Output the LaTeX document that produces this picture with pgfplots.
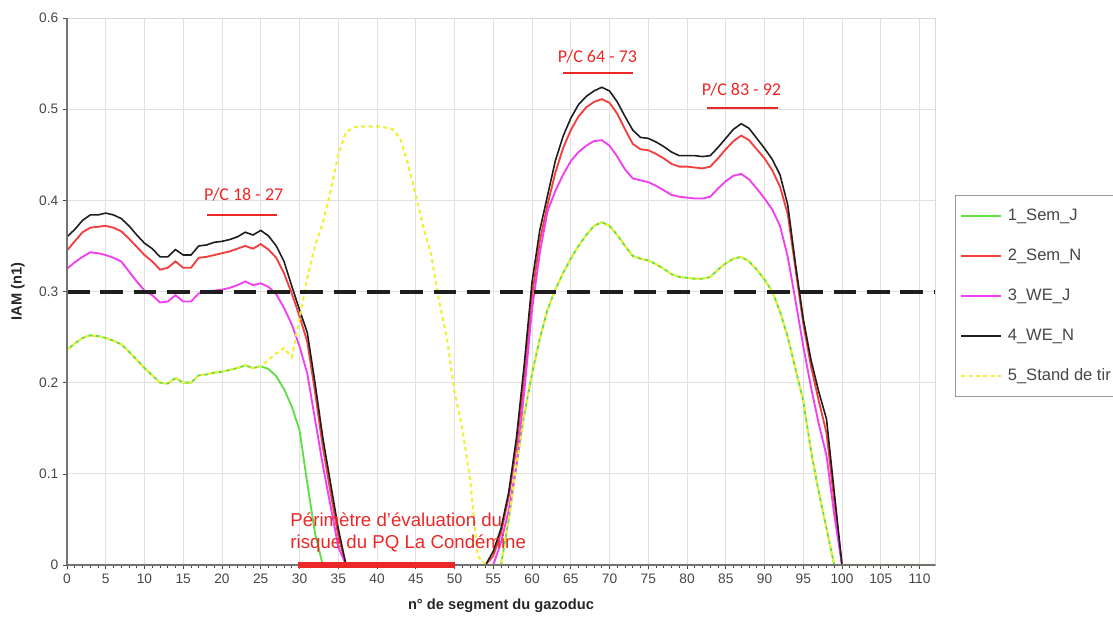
\documentclass[border=0pt]{standalone}
\usepackage{fontspec}
\setmainfont{Liberation Sans}
\newfontfamily\carlito{Carlito}
\usepackage{pgfplots}
\usepackage{pgfplotstable}
\pgfplotsset{compat=1.18}

\definecolor{cGreen}{RGB}{96,222,72}
\definecolor{cRed}{RGB}{242,64,64}
\definecolor{cMag}{RGB}{240,64,240}
\definecolor{cBlack}{RGB}{30,30,30}
\definecolor{cYel}{RGB}{240,240,60}
\definecolor{cTick}{RGB}{70,70,70}
\definecolor{cAnn}{RGB}{235,40,40}

% IAM (n1) per segment: G=1_Sem_J R=2_Sem_N M=3_WE_J K=4_WE_N Y=5_Stand de tir
\pgfplotstableread{
x G R M K Y
0 0.236 0.345 0.325 0.360 0.236
1 0.243 0.355 0.332 0.368 0.243
2 0.249 0.365 0.338 0.378 0.249
3 0.252 0.370 0.343 0.384 0.252
4 0.251 0.371 0.342 0.384 0.251
5 0.249 0.372 0.340 0.386 0.249
6 0.246 0.370 0.337 0.384 0.246
7 0.242 0.366 0.333 0.380 0.242
8 0.234 0.358 0.322 0.372 0.234
9 0.225 0.349 0.311 0.362 0.225
10 0.216 0.340 0.301 0.353 0.216
11 0.208 0.333 0.296 0.347 0.208
12 0.200 0.324 0.288 0.338 0.200
13 0.199 0.326 0.289 0.338 0.199
14 0.205 0.333 0.296 0.346 0.205
15 0.200 0.326 0.289 0.340 0.200
16 0.200 0.326 0.289 0.340 0.200
17 0.208 0.337 0.298 0.350 0.208
18 0.209 0.338 0.299 0.351 0.209
19 0.211 0.340 0.301 0.354 0.211
20 0.212 0.342 0.302 0.355 0.212
21 0.214 0.344 0.304 0.357 0.214
22 0.216 0.347 0.307 0.360 0.216
23 0.219 0.350 0.311 0.365 0.219
24 0.216 0.347 0.307 0.362 0.216
25 0.218 0.352 0.309 0.367 0.218
26 0.215 0.346 0.305 0.361 0.225
27 0.207 0.337 0.297 0.350 0.232
28 0.193 0.320 0.282 0.333 0.238
29 0.174 0.298 0.264 0.306 0.228
30 0.148 0.273 0.240 0.280 0.270
31 0.090 0.245 0.210 0.255 0.315
32 0.035 0.190 0.160 0.200 0.350
33 0.000 0.130 0.110 0.140 0.375
34 0 0.080 0.065 0.090 0.410
35 0 0.032 0.020 0.040 0.450
36 0 0 0 0 0.475
37 0 0 0 0 0.480
38 0 0 0 0 0.481
39 0 0 0 0 0.481
40 0 0 0 0 0.481
41 0 0 0 0 0.480
42 0 0 0 0 0.478
43 0 0 0 0 0.468
44 0 0 0 0 0.440
45 0 0 0 0 0.405
46 0 0 0 0 0.370
47 0 0 0 0 0.340
48 0 0 0 0 0.290
49 0 0 0 0 0.250
50 0 0 0 0 0.190
51 0 0 0 0 0.150
52 0 0 0 0 0.095
53 0 0 0 0 0.010
54 0 0 0 0 0
55 0 0.010 0 0.015 0
56 0 0.035 0.025 0.040 0
57 0.050 0.075 0.060 0.080 0.050
58 0.110 0.130 0.110 0.140 0.110
59 0.165 0.205 0.190 0.220 0.165
60 0.210 0.295 0.280 0.310 0.210
61 0.248 0.355 0.342 0.367 0.248
62 0.280 0.395 0.388 0.405 0.280
63 0.302 0.430 0.410 0.443 0.302
64 0.320 0.457 0.428 0.470 0.320
65 0.336 0.477 0.443 0.490 0.336
66 0.350 0.492 0.453 0.505 0.350
67 0.362 0.502 0.460 0.514 0.362
68 0.372 0.508 0.465 0.520 0.372
69 0.376 0.511 0.466 0.524 0.376
70 0.372 0.507 0.460 0.520 0.372
71 0.362 0.495 0.448 0.508 0.362
72 0.350 0.478 0.434 0.492 0.350
73 0.339 0.462 0.424 0.477 0.339
74 0.336 0.456 0.422 0.469 0.336
75 0.334 0.455 0.420 0.468 0.334
76 0.330 0.451 0.416 0.464 0.330
77 0.325 0.446 0.411 0.459 0.325
78 0.319 0.440 0.406 0.453 0.319
79 0.316 0.437 0.404 0.449 0.316
80 0.315 0.437 0.403 0.449 0.315
81 0.314 0.436 0.402 0.449 0.314
82 0.314 0.435 0.402 0.448 0.314
83 0.316 0.437 0.404 0.449 0.316
84 0.324 0.446 0.413 0.458 0.324
85 0.331 0.456 0.421 0.468 0.331
86 0.336 0.465 0.427 0.478 0.336
87 0.338 0.471 0.429 0.484 0.338
88 0.333 0.466 0.423 0.479 0.333
89 0.324 0.456 0.413 0.468 0.324
90 0.313 0.446 0.402 0.457 0.313
91 0.300 0.433 0.390 0.445 0.300
92 0.278 0.415 0.372 0.428 0.278
93 0.250 0.385 0.338 0.395 0.250
94 0.215 0.325 0.290 0.330 0.215
95 0.180 0.265 0.240 0.270 0.180
96 0.125 0.218 0.195 0.225 0.125
97 0.080 0.180 0.155 0.190 0.080
98 0.040 0.145 0.120 0.160 0.040
99 0 0.070 0.055 0.080 0
100 0 0 0 0 0
101 0 0 0 0 0
102 0 0 0 0 0
103 0 0 0 0 0
104 0 0 0 0 0
105 0 0 0 0 0
106 0 0 0 0 0
107 0 0 0 0 0
108 0 0 0 0 0
109 0 0 0 0 0
110 0 0 0 0 0
111 0 0 0 0 0
112 0 0 0 0 0
}\iam

\begin{document}
\begin{tikzpicture}
\begin{axis}[
  at={(0,0)}, anchor=south west,
  scale only axis, width=651pt, height=410.25pt,
  xmin=0, xmax=112, ymin=0, ymax=0.6,
  clip=false,
  xtick={0,5,...,110},
  ytick={0,0.1,0.2,0.3,0.4,0.5,0.6},
  minor x tick num=4,
  tick pos=left,
  tick align=outside,
  major tick length=3pt, minor tick length=2pt,
  tick style={color=cTick, line width=0.5pt},
  grid=major,
  major grid style={color=black!12, line width=0.6pt},
  axis line style={color=black!15, line width=0.6pt},
  ticklabel style={font=\fontsize{10.3}{12}\selectfont, text=cTick},
  /pgf/number format/assume math mode=true,
  yticklabel style={/pgf/number format/fixed, /pgf/number format/precision=1},
  xlabel={n° de segment du gazoduc},
  ylabel={IAM (n1)},
  xlabel style={font=\bfseries\fontsize{11}{13}\selectfont, text=black!85,
    at={(axis description cs:0.5,-0.075)}, anchor=center},
  ylabel style={font=\bfseries\fontsize{11}{13}\selectfont, text=black!85,
    at={(axis description cs:-0.0565,0.5)}, anchor=center, rotate=0},
  legend style={at={(axis description cs:1.023,0.6764)}, anchor=north west,
    draw=black!40, fill=white, line width=0.6pt,
    font=\fontsize{12.4}{14}\selectfont, text=cTick,
    inner xsep=3.75pt, inner ysep=10pt, row sep=19pt, column sep=4pt,
    nodes={inner sep=0pt, text height=8.5pt, text depth=2.5pt}},
  legend cell align=left,
  legend image code/.code={\draw[#1] (0pt,0pt) -- (30pt,0pt);},
]
\addplot[cGreen, line width=1.4pt] table[x=x, y=G] {\iam};
\addlegendentry{1\_Sem\_J}
\addplot[cRed, line width=1.4pt] table[x=x, y=R] {\iam};
\addlegendentry{2\_Sem\_N}
\addplot[cMag, line width=1.4pt] table[x=x, y=M] {\iam};
\addlegendentry{3\_WE\_J}
\addplot[cBlack, line width=1.2pt] table[x=x, y=K] {\iam};
\addlegendentry{4\_WE\_N}
\addplot[cYel, line width=1.6pt, dash pattern=on 3pt off 2.5pt] table[x=x, y=Y] {\iam};
\addlegendentry{5\_Stand de tir}
% seuil 0.3
\addplot[cBlack, line width=3pt, dash pattern=on 17pt off 8pt, forget plot] coordinates {(0,0.3) (112,0.3)};

% axes left and bottom
\draw[color=black!55, line width=0.8pt] (rel axis cs:0,0) -- (rel axis cs:0,1);
\draw[color=black!55, line width=0.8pt] (rel axis cs:0,0) -- (rel axis cs:1,0);

% périmètre PQ La Condémine
\draw[cAnn, line width=5pt] (axis cs:29.8,0) -- (axis cs:50.1,0);
\node[anchor=base west, inner sep=0pt, text=cAnn, font=\fontsize{14}{16}\selectfont]
  at (axis cs:28.8,0.0417) {Périmètre d’évaluation du};
\node[anchor=base west, inner sep=0pt, text=cAnn, font=\fontsize{14}{16}\selectfont]
  at (axis cs:28.8,0.0186) {risque du PQ La Condémine};

% points de contrôle
\node[anchor=base, inner sep=0pt, text=cAnn, font=\carlito\fontsize{13.5}{15}\selectfont]
  at (axis cs:22.8,0.3995) {P/C 18 - 27};
\draw[cAnn, line width=1.1pt] (axis cs:18.1,0.3838) -- (axis cs:27.1,0.3838);
\node[anchor=base, inner sep=0pt, text=cAnn, font=\carlito\fontsize{13.5}{15}\selectfont]
  at (axis cs:68.45,0.5515) {P/C 64 - 73};
\draw[cAnn, line width=1.1pt] (axis cs:64,0.5398) -- (axis cs:73,0.5398);
\node[anchor=base, inner sep=0pt, text=cAnn, font=\carlito\fontsize{13.5}{15}\selectfont]
  at (axis cs:87.03,0.5154) {P/C 83 - 92};
\draw[cAnn, line width=1.1pt] (axis cs:82.6,0.5011) -- (axis cs:91.7,0.5011);
\end{axis}
\pgfresetboundingbox
\path[use as bounding box] (-50.25pt,-42.75pt) rectangle (784.5pt,423.75pt);
\end{tikzpicture}
\end{document}
